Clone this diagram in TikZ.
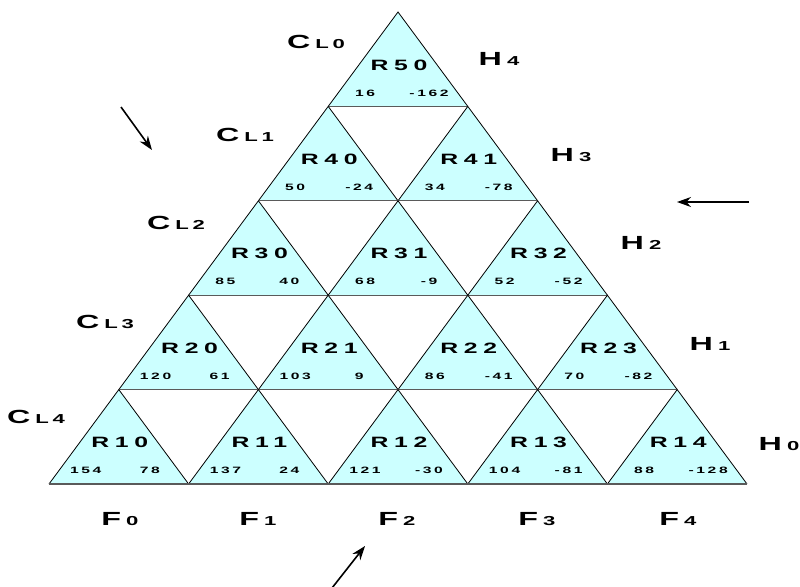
\documentclass[tikz,border=0pt]{standalone}
\usepackage{fontspec}
\setmainfont{Liberation Sans}
\newfontfamily\widefont[FakeStretch=1.7,LetterSpace=28]{Liberation Sans}
\newfontfamily\widerfont[FakeStretch=1.65,LetterSpace=38]{Liberation Sans}
\usetikzlibrary{arrows.meta}
\definecolor{tricyan}{HTML}{CCFFFF}
\definecolor{edgegray}{HTML}{5A5A5A}
\newcommand\sidelbl[2]{{\fontsize{19}{19}\selectfont #1}\hspace{5pt}{\fontsize{13}{13}\selectfont #2}}
\begin{document}
\begin{tikzpicture}[x=1pt,y=-1pt,
  edge/.style={draw=black,line width=0.8pt},
  baseedge/.style={draw=edgegray,line width=1.3pt},
  rname/.style={inner sep=0pt,font=\widerfont\bfseries\fontsize{15}{15}\selectfont},
  rval/.style={inner sep=0pt,font=\widefont\bfseries\fontsize{9.2}{9.2}\selectfont},
  side/.style={inner sep=0pt,font=\widefont\bfseries},
  flow/.style={line width=1.6pt,-{Stealth[length=14pt,width=10pt]}}]
\useasboundingbox (0,0) rectangle (800,586);
% filled upward triangles
\foreach \i in {0,...,4}{
  \foreach \j in {0,...,\i}{
    \pgfmathsetmacro\ax{398-69.8*\i+139.6*\j}
    \pgfmathsetmacro\ay{12+94.4*\i}
    \fill[tricyan] (\ax,\ay) -- ++(-69.8,94.4) -- ++(139.6,0) -- cycle;
    \draw[edge] (\ax-69.8,\ay+94.4) -- (\ax,\ay) -- (\ax+69.8,\ay+94.4);
  }
  \pgfmathsetmacro\by{12+94.4*(\i+1)}
  \pgfmathsetmacro\bl{398-69.8*(\i+1)}
  \pgfmathsetmacro\br{398+69.8*(\i+1)}
  \draw[baseedge] (\bl,\by) -- (\br,\by);
}
% labels in triangles
\foreach \i/\j/\a/\b in {0/0/16/-162,
  1/0/50/-24, 1/1/34/-78,
  2/0/85/40, 2/1/68/-9, 2/2/52/-52,
  3/0/120/61, 3/1/103/9, 3/2/86/-41, 3/3/70/-82,
  4/0/154/78, 4/1/137/24, 4/2/121/-30, 4/3/104/-81, 4/4/88/-128}{
  \pgfmathsetmacro\ax{398-69.8*\i+139.6*\j}
  \pgfmathsetmacro\ay{12+94.4*\i}
  \pgfmathtruncatemacro\rr{5-\i}
  \node[rname] (r\rr\j) at (\ax+1,\ay+53) {R\rr\j};
  \node[rval] (a\rr\j) at (\ax-33,\ay+81) {\a};
  \node[rval] (b\rr\j) at (\ax+31,\ay+81) {\b};
}
% side labels
\node[side] (cl0) at (316,42) {\sidelbl{C}{L0}};
\node[side] (cl1) at (245,135) {\sidelbl{C}{L1}};
\node[side] (cl2) at (176,223) {\sidelbl{C}{L2}};
\node[side] (cl3) at (105,322) {\sidelbl{C}{L3}};
\node[side] (cl4) at (36,417) {\sidelbl{C}{L4}};
\node[side] (h4) at (499,59) {\sidelbl{H}{4}};
\node[side] (h3) at (571,155) {\sidelbl{H}{3}};
\node[side] (h2) at (641,243) {\sidelbl{H}{2}};
\node[side] (h1) at (710,344) {\sidelbl{H}{1}};
\node[side] (h0) at (779,444) {\sidelbl{H}{0}};
\node[side] (f0) at (120,519) {\sidelbl{F}{0}};
\node[side] (f1) at (258,519) {\sidelbl{F}{1}};
\node[side] (f2) at (397,519) {\sidelbl{F}{2}};
\node[side] (f3) at (537,519) {\sidelbl{F}{3}};
\node[side] (f4) at (678,519) {\sidelbl{F}{4}};
% arrows
\coordinate (a1s) at (121,107);
\coordinate (a1e) at (152,150);
\coordinate (a2s) at (749,202);
\coordinate (a2e) at (677,202);
\coordinate (a3s) at (332,588);
\coordinate (a3e) at (365,546);
\draw[flow] (a1s) -- (a1e);
\draw[flow] (a2s) -- (a2e);
\draw[flow] (a3s) -- (a3e);
\end{tikzpicture}
\end{document}
